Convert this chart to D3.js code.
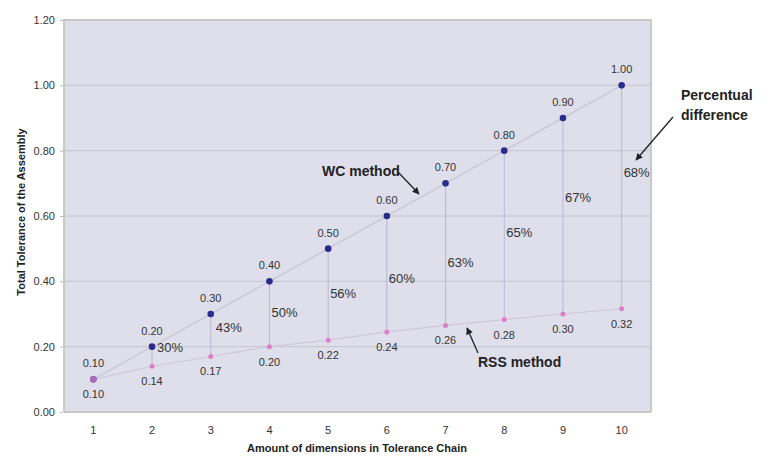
<!DOCTYPE html>
<html><head><meta charset="utf-8">
<script src="https://cdn.jsdelivr.net/npm/d3@7"></script>
<style>
html,body{margin:0;padding:0;background:#fff;}
svg{display:block;font-family:Arial,"Liberation Sans",sans-serif;}
</style></head>
<body><svg id="chart" width="782" height="462"></svg>
<script>
// ---- data ----
const categories = ["1","2","3","4","5","6","7","8","9","10"];
const wcValues  = [0.10,0.20,0.30,0.40,0.50,0.60,0.70,0.80,0.90,1.00];
const rssValues = [0.10,0.14,0.17,0.20,0.22,0.245,0.265,0.283,0.30,0.316];
const rssLabels = ["0.10","0.14","0.17","0.20","0.22","0.24","0.26","0.28","0.30","0.32"];
const pctLabels = ["","30%","43%","50%","56%","60%","63%","65%","67%","68%"];
const yTicks = [0,0.2,0.4,0.6,0.8,1.0,1.2];

// label anchors (data units) for percentage labels
const pctAt = [null,0.20,0.26,0.305,0.365,0.41,0.46,0.55,0.658,0.735];

const svg = d3.select("#chart");
const L=64, R=651, T=20, B=412;

const x = d3.scaleBand().domain(categories).range([L,R]).padding(0);
const y = d3.scaleLinear().domain([0,1.2]).range([B,T]);
const cx = c => x(c) + x.bandwidth()/2;

// plot background
svg.append("rect").attr("x",L).attr("y",T).attr("width",R-L).attr("height",B-T)
  .attr("fill","#dfdfec");

// gridlines
svg.append("g").selectAll("line").data(yTicks.filter(d=>d>0&&d<1.2)).join("line")
  .attr("x1",L).attr("x2",R).attr("y1",d=>y(d)).attr("y2",d=>y(d))
  .attr("stroke","#c4c4cc").attr("stroke-width",1);

// border
svg.append("path").attr("d",`M${L},${B}V${T}H${R}V${B}`)
  .attr("fill","none").attr("stroke","#c8c8c8").attr("stroke-width",2);
svg.append("line").attr("x1",L).attr("x2",R).attr("y1",B).attr("y2",B)
  .attr("stroke","#c8c8c8").attr("stroke-width",2);

// y axis
const yAxis = d3.axisLeft(y).tickValues(yTicks).tickFormat(d3.format(".2f")).tickSize(3).tickPadding(5);
const gy = svg.append("g").attr("transform",`translate(${L-1},0)`).call(yAxis);
gy.select(".domain").remove();
gy.selectAll(".tick line").attr("stroke","#bbb");
gy.selectAll("text").attr("font-size",11).attr("fill","#333");

// x axis
const xAxis = d3.axisBottom(x).tickSize(0).tickPadding(14);
const gx = svg.append("g").attr("transform",`translate(0,${B})`).call(xAxis);
gx.select(".domain").remove();
gx.selectAll("text").attr("font-size",11).attr("fill","#333");

// axis titles
svg.append("text").attr("x",357).attr("y",452).attr("text-anchor","middle")
  .attr("font-size",11).attr("font-weight","bold").attr("fill","#222")
  .text("Amount of dimensions in Tolerance Chain");
svg.append("text").attr("transform","translate(25,212) rotate(-90)").attr("text-anchor","middle")
  .attr("font-size",11).attr("font-weight","bold").attr("fill","#222")
  .text("Total Tolerance of the Assembly");

// drop lines
svg.append("g").selectAll("line").data(categories).join("line")
  .attr("x1",cx).attr("x2",cx)
  .attr("y1",(c,i)=>y(wcValues[i])).attr("y2",(c,i)=>y(rssValues[i]))
  .attr("stroke","#b8b8d0").attr("stroke-width",1);

// series lines
const lineWC = d3.line().x((d,i)=>cx(categories[i])).y(d=>y(d));
svg.append("path").attr("d",lineWC(wcValues)).attr("fill","none")
  .attr("stroke","#cacad6").attr("stroke-width",1.5);
svg.append("path").attr("d",lineWC(rssValues)).attr("fill","none")
  .attr("stroke","#d0c6da").attr("stroke-width",1.2);

// markers
svg.append("g").selectAll("circle").data(wcValues).join("circle")
  .attr("cx",(d,i)=>cx(categories[i])).attr("cy",d=>y(d)).attr("r",3.3)
  .attr("fill","#2b2b8e");
svg.append("g").selectAll("circle").data(rssValues).join("circle")
  .attr("cx",(d,i)=>cx(categories[i])).attr("cy",d=>y(d)).attr("r",(d,i)=>i===0?3.3:2.5)
  .attr("fill","#dd7fc4").attr("fill-opacity",(d,i)=>i===0?0.75:1);

// value labels
svg.append("g").selectAll("text").data(wcValues).join("text")
  .attr("x",(d,i)=>cx(categories[i])).attr("y",d=>y(d)-12)
  .attr("text-anchor","middle").attr("font-size",11).attr("fill","#333")
  .text(d=>d.toFixed(2));
svg.append("g").selectAll("text").data(rssValues).join("text")
  .attr("x",(d,i)=>cx(categories[i])).attr("y",d=>y(d)+19)
  .attr("text-anchor","middle").attr("font-size",11).attr("fill","#333")
  .text((d,i)=>rssLabels[i]);

// percent labels
svg.append("g").selectAll("text").data(pctLabels.map((t,i)=>({t,i})).filter(d=>d.t)).join("text")
  .attr("x",d=>cx(categories[d.i])+(d.i<3?5:2)).attr("y",d=>y(pctAt[d.i])+5)
  .attr("font-size",13).attr("fill","#333")
  .text(d=>d.t);

// annotations
const ann = svg.append("g").attr("font-size",14).attr("font-weight","bold").attr("fill","#222");
ann.append("text").attr("x",322).attr("y",176).text("WC method");
ann.append("text").attr("x",478).attr("y",367).text("RSS method");
ann.append("text").attr("x",681).attr("y",100).text("Percentual");
ann.append("text").attr("x",681).attr("y",120).text("difference");

// arrows
const defs = svg.append("defs");
defs.append("marker").attr("id","ah").attr("viewBox","0 0 10 10").attr("refX",9).attr("refY",5)
  .attr("markerWidth",9).attr("markerHeight",7).attr("orient","auto").attr("markerUnits","userSpaceOnUse")
  .append("path").attr("d","M0,0L10,5L0,10z").attr("fill","#222");
const arrows = [[398,172,419,194],[673,117,636,160],[478,353,467,328]];
svg.append("g").selectAll("line").data(arrows).join("line")
  .attr("x1",d=>d[0]).attr("y1",d=>d[1]).attr("x2",d=>d[2]).attr("y2",d=>d[3])
  .attr("stroke","#222").attr("stroke-width",1.3).attr("marker-end","url(#ah)");
</script>
</body></html>
